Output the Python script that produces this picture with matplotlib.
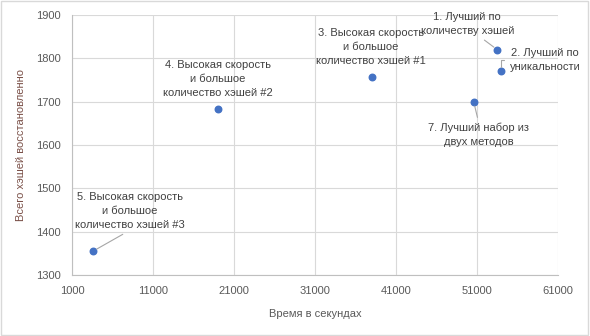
import matplotlib.pyplot as plt

plt.rcParams["font.family"] = ["Liberation Sans", "DejaVu Sans"]

# time in seconds and recovered hashes per method
times = [53500, 54000, 38000, 19000, 3600, 50600]
hashes = [1820, 1770, 1757, 1683, 1355, 1699]
labels = [
    "1. Лучший по\nколичеству хэшей",
    "2. Лучший по\nуникальности",
    "3. Высокая скорость\nи большое\nколичество хэшей #1",
    "4. Высокая скорость\nи большое\nколичество хэшей #2",
    "5. Высокая скорость\nи большое\nколичество хэшей #3",
    "7. Лучший набор из\nдвух методов",
]

x_ticks = [1000, 11000, 21000, 31000, 41000, 51000, 61000]
y_ticks = [1300, 1400, 1500, 1600, 1700, 1800, 1900]

# label text centre offsets (pixels); leader anchor on the text box (None = no leader)
offsets = [(-30, 26), (44, 11), (-1, 30), (0, 30), (37, 40), (5, -33)]
anchors = [(0.62, 0.0), (0.0, 0.5), None, None, (0.5, 0.0), (0.5, 1.0)]
styles = ["arc3", "angle,angleA=0,angleB=90,rad=0", None, None, "arc3", "arc3"]

text_color = "#595959"
grid_color = "#d9d9d9"
point_color = "#4472c4"

fig = plt.figure(figsize=(5.9, 3.36), dpi=100)
ax = fig.add_axes([72 / 590, (336 - 275) / 336, 486 / 590, 260 / 336])

ax.scatter(times, hashes, s=22, color=point_color, zorder=3)

for x, y, text, (dx, dy), rel, style in zip(times, hashes, labels, offsets, anchors, styles):
    arrow = None
    if rel is not None:
        arrow = dict(arrowstyle="-", color="#a6a6a6", lw=0.8, shrinkA=2, shrinkB=3,
                     relpos=rel, connectionstyle=style)
    ax.annotate(
        text,
        xy=(x, y),
        xytext=(dx, dy),
        textcoords="offset pixels",
        ha="center",
        va="center",
        fontsize=8,
        color="#404040",
        linespacing=1.5,
        arrowprops=arrow,
    )

ax.set_xlim(1000, 61000)
ax.set_ylim(1300, 1900)
ax.set_xticks(x_ticks)
ax.set_yticks(y_ticks)
ax.tick_params(axis="both", length=0, labelsize=8, labelcolor=text_color, pad=8)
ax.grid(True, color=grid_color, linewidth=0.8)
ax.set_axisbelow(True)
for side in ["top", "right"]:
    ax.spines[side].set_visible(False)
for side in ["left", "bottom"]:
    ax.spines[side].set_color("#bfbfbf")

ax.set_xlabel("Время в секундах", fontsize=8, color=text_color, labelpad=9)
ax.set_ylabel("Всего хэшей восстановленно", fontsize=8, color="#7a5048", labelpad=7)

border = plt.Rectangle((0.002, 0.003), 0.995, 0.993, transform=fig.transFigure,
                       fill=False, edgecolor="#d9d9d9", linewidth=1)
fig.patches.append(border)

fig.savefig("out.png", dpi=100)
